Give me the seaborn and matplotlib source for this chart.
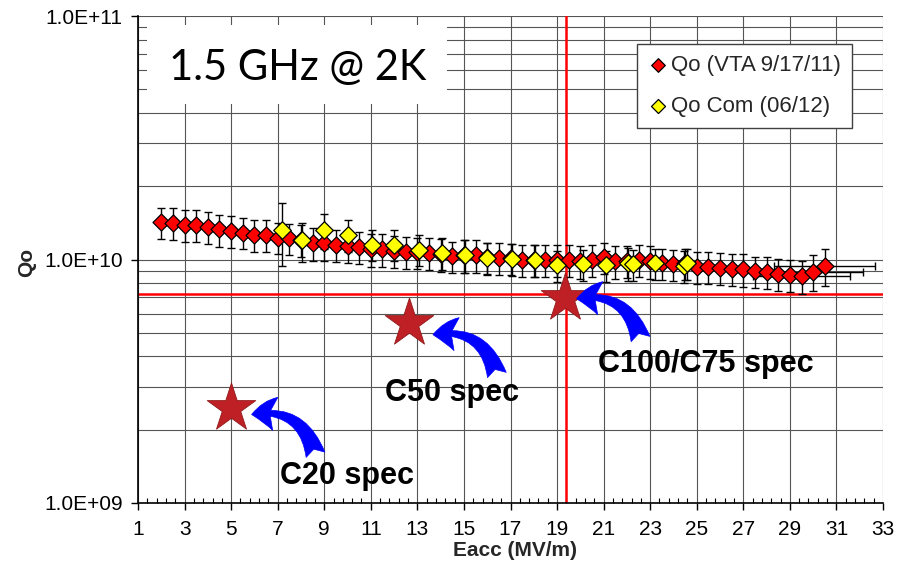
import numpy as np
import pandas as pd
import matplotlib
matplotlib.use("Agg")
import matplotlib.pyplot as plt
import seaborn as sns
from matplotlib.ticker import FixedLocator, FuncFormatter, NullFormatter
from matplotlib.patches import Rectangle, ArrowStyle

# ---------------- data ----------------
vta_eacc = [2.0, 2.5, 3.0, 3.5, 4.0, 4.5, 5.0, 5.5, 6.0, 6.5,
            7.0, 7.5, 8.0, 8.5, 9.0, 9.5, 10.0, 10.5, 11.0, 11.5,
            12.0, 12.5, 13.0, 13.5, 14.0, 14.5, 15.0, 15.5, 16.0, 16.5,
            17.0, 17.5, 18.0, 18.5, 19.0, 19.5, 20.0, 20.5, 21.0, 21.5,
            22.0, 22.5, 23.0, 23.5, 24.0, 24.5, 25.0, 25.5, 26.0, 26.5,
            27.0, 27.5, 28.0, 28.5, 29.0, 29.5, 30.0, 30.5]
vta_q = [1.42, 1.41, 1.39, 1.39, 1.36, 1.33, 1.31, 1.29, 1.26, 1.26,
         1.23, 1.22, 1.20, 1.17, 1.17, 1.15, 1.135, 1.124, 1.10, 1.10,
         1.083, 1.075, 1.07, 1.065, 1.05, 1.033, 1.04, 1.04, 1.02, 1.016,
         1.01, 1.0, 1.0, 1.0, 1.0, 1.0, 0.985, 1.0, 1.02, 0.985,
         0.99, 1.0, 0.985, 0.965, 0.954, 0.965, 0.933, 0.933, 0.925, 0.918,
         0.910, 0.896, 0.890, 0.874, 0.865, 0.855, 0.89, 0.94]  # x 1e10
vta_qerr = [0.21, 0.21, 0.21, 0.21, 0.20, 0.20, 0.20, 0.19, 0.19, 0.19,
            0.18, 0.18, 0.18, 0.18, 0.18, 0.17, 0.17, 0.17, 0.17, 0.17,
            0.16, 0.16, 0.16, 0.16, 0.16, 0.15, 0.16, 0.16, 0.15, 0.15,
            0.15, 0.15, 0.15, 0.15, 0.15, 0.15, 0.15, 0.15, 0.15, 0.15,
            0.15, 0.15, 0.15, 0.14, 0.14, 0.14, 0.14, 0.14, 0.14, 0.14,
            0.14, 0.13, 0.13, 0.13, 0.13, 0.13, 0.15, 0.16]  # x 1e10
vta_eerr_idx = [55, 56, 57]
vta_eerr_val = [2.07, 2.14, 2.17]

com_eacc = [7.2, 8.05, 9.0, 10.0, 11.05, 12.0, 13.05, 14.05, 15.05, 16.0,
            17.05, 18.05, 19.0, 20.1, 21.1, 22.05, 22.25, 23.2, 24.45, 24.6]
com_q = [1.32, 1.197, 1.32, 1.259, 1.152, 1.152, 1.099, 1.065, 1.042, 1.016,
         1.007, 1.0, 0.945, 0.954, 0.946, 0.969, 0.954, 0.963, 0.94, 0.963]  # x 1e10
com_qerr = [0.38, 0.22, 0.22, 0.19, 0.17, 0.17, 0.16, 0.16, 0.16, 0.15,
            0.15, 0.15, 0.14, 0.14, 0.14, 0.15, 0.14, 0.14, 0.14, 0.14]  # x 1e10

spec_names = ["C20 spec", "C50 spec", "C100/C75 spec"]
spec_eacc = [5.0, 12.64, 19.35]
spec_q = [2.45e9, 5.47e9, 6.96e9]
# annotation layout (arrow tips and label anchors, data coords)
arrow_tip_eacc = [5.88, 13.67, 19.84]
arrow_tip_q = [2.31e9, 4.91e9, 6.90e9]
label_eacc = [7.10, 11.61, 20.76]
label_q = [1.20e9, 2.62e9, 3.45e9]

ref_q = 7.25e9
ref_eacc = 19.37

x_ticks = list(range(1, 34, 2))
y_ticks = [1e9, 1e10, 1e11]

legend_labels = ["Qo (VTA 9/17/11)", "Qo Com (06/12)"]
title_text = "1.5 GHz @ 2K"
# --------------------------------------

sns.set_theme(style="white")
plt.rcParams["font.family"] = ["Liberation Sans", "DejaVu Sans"]

W, H = 908, 568
fig = plt.figure(figsize=(W / 100, H / 100), dpi=100)
ax = fig.add_axes([138 / W, 1 - 503 / H, (883 - 138) / W, (503 - 16) / H])

vta = pd.DataFrame({"Eacc": vta_eacc, "Q": np.array(vta_q) * 1e10,
                    "Qerr": np.array(vta_qerr) * 1e10})
vta["Eerr"] = 0.0
for i, v in zip(vta_eerr_idx, vta_eerr_val):
    vta.loc[i, "Eerr"] = v
com = pd.DataFrame({"Eacc": com_eacc, "Q": np.array(com_q) * 1e10,
                    "Qerr": np.array(com_qerr) * 1e10})
spec = pd.DataFrame({"Eacc": spec_eacc, "Q": spec_q, "name": spec_names})

ax.set_yscale("log")
ax.set_xlim(1, 33)
ax.set_ylim(1e9, 1e11)

grid_c = "#555555"
ax.grid(True, which="major", axis="both", color=grid_c, lw=0.8, zorder=0)
ax.grid(True, which="minor", axis="y", color=grid_c, lw=0.8, zorder=0)
ax.set_axisbelow(True)

# title box (white background, no border)
ax.add_patch(Rectangle((147 / W, 1 - 104 / H), (447 - 147) / W, (104 - 25) / H,
                       transform=fig.transFigure, fc="white", ec="none", zorder=1.2))
ax.text(169 / W, 1 - 80 / H, title_text, transform=fig.transFigure,
        family=["Lato", "DejaVu Sans"], fontsize=30, color="black",
        ha="left", va="baseline", zorder=1.3)

# reference lines
ax.axhline(ref_q, color="#ff0000", lw=1.8, zorder=1.5)
ax.axvline(ref_eacc, color="#ff0000", lw=1.8, zorder=1.5)

# error bars
ax.errorbar(vta["Eacc"], vta["Q"], yerr=vta["Qerr"], xerr=vta["Eerr"], fmt="none",
            ecolor="black", elinewidth=1.0, capsize=2.8, capthick=1.0, zorder=2)
ax.errorbar(com["Eacc"], com["Q"], yerr=com["Qerr"], fmt="none",
            ecolor="black", elinewidth=1.0, capsize=2.8, capthick=1.0, zorder=2)

sns.scatterplot(data=vta, x="Eacc", y="Q", ax=ax, marker="D", s=75,
                color="#ff0000", edgecolor="black", linewidth=0.9,
                label=legend_labels[0], zorder=3)
sns.scatterplot(data=com, x="Eacc", y="Q", ax=ax, marker="D", s=80,
                color="#ffff00", edgecolor="black", linewidth=0.9,
                label=legend_labels[1], zorder=3.2)

# spec stars
sns.scatterplot(data=spec, x="Eacc", y="Q", ax=ax, marker="*", s=1350,
                color="#be2026", edgecolor="#8f1a1a", linewidth=0.6,
                legend=False, zorder=4)

# arrows + labels
astyle = ArrowStyle("fancy", head_length=1.7, head_width=2.4, tail_width=1.4)
for name, tx, ty, lx, ly in zip(spec_names, arrow_tip_eacc, arrow_tip_q, label_eacc, label_q):
    ax.annotate("", xy=(tx, ty), xycoords="data", xytext=(46, -29),
                textcoords="offset points",
                arrowprops=dict(arrowstyle=astyle, connectionstyle="arc3,rad=0.45",
                                fc="#0000ff", ec="#0000ff", lw=0.5,
                                shrinkA=0, shrinkB=0, mutation_scale=10),
                zorder=5)
    ax.text(lx, ly, name, fontsize=22, fontweight="bold", color="black",
            ha="left", va="baseline", zorder=5)

# axes styling
ax.xaxis.set_major_locator(FixedLocator(x_ticks))
ax.xaxis.set_minor_locator(FixedLocator(np.arange(1, 33.01, 0.4)))
ax.yaxis.set_major_locator(FixedLocator(y_ticks))
ax.yaxis.set_major_formatter(FuncFormatter(lambda v, _: f"{v:.1E}"))
ax.yaxis.set_minor_formatter(NullFormatter())
ax.tick_params(axis="x", which="major", direction="out", length=5, width=1,
               color="black", labelsize=15, pad=7, bottom=True)
ax.tick_params(axis="x", which="minor", direction="in", length=3.5, width=0.8,
               color="black", bottom=True)
ax.tick_params(axis="y", which="major", direction="out", length=5, width=1,
               color="black", labelsize=15, pad=6, left=True)
ax.tick_params(axis="y", which="minor", length=0)
for lbl in ax.get_xticklabels() + ax.get_yticklabels():
    lbl.set_color("black")

for side in ["top", "right"]:
    ax.spines[side].set_visible(False)
for side in ["left", "bottom"]:
    ax.spines[side].set_color("black")
    ax.spines[side].set_linewidth(1.2)
    ax.spines[side].set_zorder(6)

ax.set_xlabel("")
ax.set_ylabel("")
fig.text(27 / W, 1 - 262 / H, "Qo", rotation=90, fontsize=15, fontweight="bold",
         ha="center", va="center")
fig.text(515 / W, 1 - 551 / H, "Eacc (MV/m)", fontsize=15, fontweight="bold",
         ha="center", va="center")

leg = ax.legend(loc="upper left", bbox_to_anchor=(637 / W, 1 - 44 / H),
                bbox_transform=fig.transFigure, borderaxespad=0, fontsize=16,
                frameon=True, fancybox=False, framealpha=1, edgecolor="#404040",
                borderpad=0.5, labelspacing=0.9, handlelength=0.9,
                handletextpad=0.15, markerscale=0.8)
leg.get_frame().set_linewidth(1.0)
leg.set_zorder(7)

fig.savefig("out.png", dpi=100, facecolor="white")
